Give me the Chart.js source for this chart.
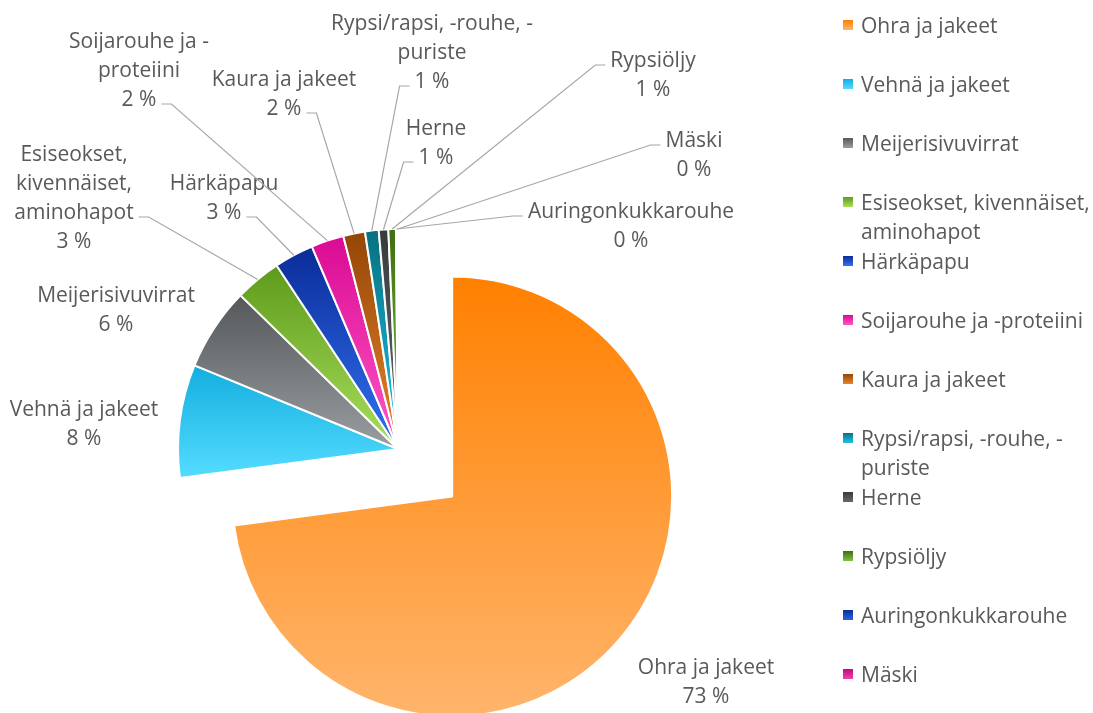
<!DOCTYPE html>
<html>
<head>
<meta charset="utf-8">
<script src="https://cdn.jsdelivr.net/npm/chart.js@4.4.1/dist/chart.umd.min.js"></script>
<style>
  html, body { margin: 0; padding: 0; background: #fff; }
</style>
</head>
<body>
<canvas id="pie" width="1093" height="713"></canvas>
<script>
// Rehuaineiden osuudet (%)
const categories = ["Ohra ja jakeet", "Vehnä ja jakeet", "Meijerisivuvirrat", "Esiseokset, kivennäiset, aminohapot", "Härkäpapu", "Soijarouhe ja -proteiini", "Kaura ja jakeet", "Rypsi/rapsi, -rouhe, -puriste", "Herne", "Rypsiöljy", "Auringonkukkarouhe", "Mäski"];
const shares = [72.9, 8.3, 6.1, 3.4, 2.9, 2.4, 1.6, 1.0, 0.7, 0.55, 0.1, 0.05];

// gradient colours, top -> bottom
const topColors = ["#ff8000", "#14aedf", "#54585b", "#5e9a1b", "#0b2c98", "#da0a94", "#944606", "#077080", "#383b3e", "#3d6d11", "#0a2f9c", "#c00a80"];
const bottomColors = ["#ffb56c", "#54dcff", "#9b9ea0", "#a9df5d", "#3172f2", "#ff58c6", "#e8842e", "#20c4e8", "#65696d", "#80c240", "#2862e2", "#f040b0"];

// label layout: [centre x, first line y, line the leader starts from (-1 = none), wrap width]
const labelLayout = [
    [706, 666, -1, 240],
    [84, 408, -1, 240],
    [116, 294, -1, 240],
    [74, 153, 2, 130],
    [224, 182, 1, 240],
    [139, 40, 2, 170],
    [284, 78, 1, 240],
    [432, 22, 2, 225],
    [436, 127, 1, 240],
    [653, 59, 0, 240],
    [631, 210, 0, 260],
    [694, 139, 0, 240]
];

const FONT = '21px "Open Sans"';
const TEXT = '#595959';
const LINE_H = 29;
const TEXT_NUDGE = 2;
const RADIUS = 220;
const EXPLODE = 72;

function arcYRange(a) {
    const r = a.outerRadius;
    const ys = [a.y, a.y + Math.sin(a.startAngle) * r, a.y + Math.sin(a.endAngle) * r];
    for (let k = -4; k <= 8; k++) {
        const t = k * Math.PI / 2;
        if (t > a.startAngle && t < a.endAngle) ys.push(a.y + Math.sin(t) * r);
    }
    return [Math.min(...ys), Math.max(...ys)];
}

function wrapText(ctx, text, maxW) {
    const tokens = text.match(/[^\s-]*-|[^\s-]+|\s+/g);
    const lines = [];
    let line = '';
    for (const t of tokens) {
        if (/^\s+$/.test(t)) { line += t; continue; }
        const test = line + t;
        if (line.trim() !== '' && ctx.measureText(test).width > maxW) {
            lines.push(line.trim());
            line = t;
        } else {
            line = test;
        }
    }
    if (line.trim()) lines.push(line.trim());
    return lines;
}

// nosta ohra irti ja anna jokaiselle sektorille oma liukuväri
const explodePlugin = {
    id: 'explodeAndShade',
    afterDatasetUpdate(chart, args) {
        const arcs = args.meta.data;
        const first = arcs[0];
        const h = (first.startAngle + first.endAngle) / 2;
        first.x += Math.cos(h) * EXPLODE;
        first.y += Math.sin(h) * EXPLODE;
        arcs.forEach((arc, i) => {
            const [y0, y1] = arcYRange(arc);
            const g = chart.ctx.createLinearGradient(0, y0, 0, y1);
            g.addColorStop(0, topColors[i]);
            g.addColorStop(1, bottomColors[i]);
            arc.options = Object.assign({}, arc.options, { backgroundColor: g });
        });
    }
};

const labelPlugin = {
    id: 'sliceLabels',
    afterDraw(chart) {
        const ctx = chart.ctx;
        const arcs = chart.getDatasetMeta(0).data;
        const total = shares.reduce((s, v) => s + v, 0);
        ctx.save();
        ctx.font = FONT;
        ctx.textAlign = 'center';
        ctx.textBaseline = 'middle';
        categories.forEach((name, i) => {
            const [cx, y0, attach, wrapW] = labelLayout[i];
            const lines = wrapText(ctx, name, wrapW);
            lines.push(Math.round(shares[i] / total * 100) + ' %');
            ctx.fillStyle = TEXT;
            lines.forEach((l, k) => ctx.fillText(l, cx, y0 + k * LINE_H + TEXT_NUDGE));

            if (attach >= 0) {
                const arc = arcs[i];
                const h = (arc.startAngle + arc.endAngle) / 2;
                const px = arc.x + Math.cos(h) * arc.outerRadius;
                const py = arc.y + Math.sin(h) * arc.outerRadius;
                const w = ctx.measureText(lines[attach]).width;
                const dir = px > cx ? 1 : -1;
                const sx = cx + dir * (w / 2 + 5);
                const sy = y0 + attach * LINE_H + 6;
                ctx.strokeStyle = '#a6a6a6';
                ctx.lineWidth = 1.2;
                ctx.beginPath();
                ctx.moveTo(sx, sy);
                ctx.lineTo(sx + dir * 10, sy);
                ctx.lineTo(px, py);
                ctx.stroke();
            }
        });
        ctx.restore();
    }
};

const legendPlugin = {
    id: 'sideLegend',
    afterDraw(chart) {
        const ctx = chart.ctx;
        ctx.save();
        ctx.font = FONT;
        ctx.textAlign = 'left';
        ctx.textBaseline = 'middle';
        categories.forEach((name, i) => {
            const y = 25 + i * 59;
            const g = ctx.createLinearGradient(0, y - 5, 0, y + 5);
            g.addColorStop(0, topColors[i]);
            g.addColorStop(1, bottomColors[i]);
            ctx.fillStyle = g;
            ctx.fillRect(843, y - 5, 10, 10);
            ctx.fillStyle = TEXT;
            wrapText(ctx, name, 240).forEach((l, k) => ctx.fillText(l, 861, y + k * LINE_H + TEXT_NUDGE));
        });
        ctx.restore();
    }
};

new Chart(document.getElementById('pie'), {
    type: 'pie',
    data: {
        labels: categories,
        datasets: [{
            data: shares,
            backgroundColor: topColors,
            borderColor: '#ffffff',
            borderWidth: 2
        }]
    },
    options: {
        responsive: false,
        animation: false,
        events: [],
        radius: RADIUS,
        layout: { padding: { left: 0, right: 297, top: 185, bottom: 0 } },
        plugins: {
            legend: { display: false },
            tooltip: { enabled: false }
        }
    },
    plugins: [explodePlugin, labelPlugin, legendPlugin]
});
</script>
</body>
</html>
